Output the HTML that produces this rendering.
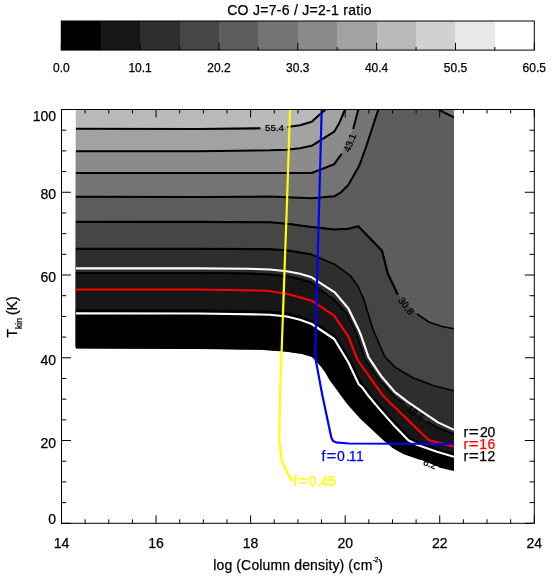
<!DOCTYPE html>
<html><head><meta charset="utf-8"><title>CO ratio</title>
<style>
html,body{margin:0;padding:0;background:#fff;overflow:hidden;}
svg{display:block;font-family:"Liberation Sans",sans-serif;will-change:transform;}
text{font-family:"Liberation Sans",sans-serif;}
</style></head><body>
<svg width="552" height="582" viewBox="0 0 552 582">
<rect x="0" y="0" width="552" height="582" fill="#ffffff"/>

<g shape-rendering="crispEdges">
<rect x="61.30" y="21.0" width="39.72" height="29.1" fill="#000000"/>
<rect x="100.72" y="21.0" width="39.72" height="29.1" fill="#171717"/>
<rect x="140.13" y="21.0" width="39.72" height="29.1" fill="#2e2e2e"/>
<rect x="179.55" y="21.0" width="39.72" height="29.1" fill="#464646"/>
<rect x="218.97" y="21.0" width="39.72" height="29.1" fill="#5d5d5d"/>
<rect x="258.38" y="21.0" width="39.72" height="29.1" fill="#747474"/>
<rect x="297.80" y="21.0" width="39.72" height="29.1" fill="#8b8b8b"/>
<rect x="337.22" y="21.0" width="39.72" height="29.1" fill="#a2a2a2"/>
<rect x="376.63" y="21.0" width="39.72" height="29.1" fill="#b9b9b9"/>
<rect x="416.05" y="21.0" width="39.72" height="29.1" fill="#d1d1d1"/>
<rect x="455.47" y="21.0" width="39.72" height="29.1" fill="#e8e8e8"/>
<rect x="494.88" y="21.0" width="39.72" height="29.1" fill="#ffffff"/>
</g>
<rect x="61.3" y="21.0" width="472.99999999999994" height="29.1" fill="none" stroke="#000" stroke-width="1"/>
<line x1="61.30" y1="50.1" x2="61.30" y2="42.9" stroke="#000" stroke-width="1"/>
<line x1="100.72" y1="50.1" x2="100.72" y2="46.9" stroke="#000" stroke-width="1"/>
<line x1="140.13" y1="50.1" x2="140.13" y2="42.9" stroke="#000" stroke-width="1"/>
<line x1="179.55" y1="50.1" x2="179.55" y2="46.9" stroke="#000" stroke-width="1"/>
<line x1="218.97" y1="50.1" x2="218.97" y2="42.9" stroke="#000" stroke-width="1"/>
<line x1="258.38" y1="50.1" x2="258.38" y2="46.9" stroke="#000" stroke-width="1"/>
<line x1="297.80" y1="50.1" x2="297.80" y2="42.9" stroke="#000" stroke-width="1"/>
<line x1="337.22" y1="50.1" x2="337.22" y2="46.9" stroke="#000" stroke-width="1"/>
<line x1="376.63" y1="50.1" x2="376.63" y2="42.9" stroke="#000" stroke-width="1"/>
<line x1="416.05" y1="50.1" x2="416.05" y2="46.9" stroke="#000" stroke-width="1"/>
<line x1="455.47" y1="50.1" x2="455.47" y2="42.9" stroke="#000" stroke-width="1"/>
<line x1="494.88" y1="50.1" x2="494.88" y2="46.9" stroke="#000" stroke-width="1"/>
<line x1="534.30" y1="50.1" x2="534.30" y2="42.9" stroke="#000" stroke-width="1"/>
<text x="61.30" y="72.2" font-size="12" text-anchor="middle" fill="#000" stroke="#000" stroke-width="0.25">0.0</text>
<text x="140.13" y="72.2" font-size="12" text-anchor="middle" fill="#000" stroke="#000" stroke-width="0.25">10.1</text>
<text x="218.97" y="72.2" font-size="12" text-anchor="middle" fill="#000" stroke="#000" stroke-width="0.25">20.2</text>
<text x="297.80" y="72.2" font-size="12" text-anchor="middle" fill="#000" stroke="#000" stroke-width="0.25">30.3</text>
<text x="376.63" y="72.2" font-size="12" text-anchor="middle" fill="#000" stroke="#000" stroke-width="0.25">40.4</text>
<text x="455.47" y="72.2" font-size="12" text-anchor="middle" fill="#000" stroke="#000" stroke-width="0.25">50.5</text>
<text x="534.30" y="72.2" font-size="12" text-anchor="middle" fill="#000" stroke="#000" stroke-width="0.25">60.5</text>
<text x="299.4" y="14.6" font-size="14" text-anchor="middle" fill="#000" stroke="#000" stroke-width="0.25" textLength="144.5" lengthAdjust="spacing">CO J=7-6 / J=2-1 ratio</text>
<defs><clipPath id="dc"><polygon points="75.80,109.50 454.00,109.50 454.00,470.12 438.97,466.84 420.62,459.36 404.06,453.48 392.50,446.95 384.41,440.23 359.74,417.06 347.51,403.34 330.14,379.49 325.75,371.81 320.70,365.13 316.45,360.38 312.08,356.18 300.19,352.82 286.80,350.61 270.06,349.40 260.52,348.80 198.01,347.85 75.80,347.35"/></clipPath><clipPath id="rc"><rect x="75.8" y="109.5" width="378.2" height="413.79999999999995"/></clipPath></defs>
<g clip-path="url(#dc)">
<rect x="67.8" y="103.5" width="394.2" height="400" fill="#b9b9b9"/>
<polygon points="67.80,128.80 75.80,128.80 198.00,129.00 260.50,128.30 287.50,127.00 300.00,125.30 311.70,121.70 320.00,114.20 333.20,103.50 462.00,103.50 462.00,523.30 67.80,523.30" fill="#a2a2a2"/>
<polygon points="67.80,151.25 75.80,151.25 198.00,151.25 270.00,150.30 286.70,149.70 300.00,148.30 311.70,145.80 334.20,131.70 339.20,123.30 347.52,103.50 462.00,103.50 462.00,523.30 67.80,523.30" fill="#8b8b8b"/>
<polygon points="67.80,173.00 75.80,173.00 270.00,173.00 311.70,173.00 334.20,164.20 341.70,153.80 353.20,129.00 359.87,103.50 462.00,103.50 462.00,523.30 67.80,523.30" fill="#747474"/>
<polygon points="67.80,196.75 75.80,196.75 198.00,196.90 270.00,196.60 286.70,197.20 311.70,198.20 334.20,196.30 341.00,192.30 348.30,185.00 359.20,165.80 366.70,145.00 380.26,103.50 462.00,103.50 462.00,523.30 67.80,523.30" fill="#5d5d5d"/>
<polygon points="438.5,109.5 430,100 470,100 470,125.6" fill="#747474"/>
<polygon points="67.80,221.75 75.80,221.75 198.00,221.90 270.00,222.30 286.70,223.70 311.70,227.00 334.20,229.50 348.30,228.70 358.30,226.20 382.00,250.70 387.80,273.70 397.80,294.50 417.00,314.00 429.50,322.30 442.00,326.50 454.00,328.70 462.00,328.70 462.00,523.30 67.80,523.30" fill="#464646"/>
<polygon points="67.80,248.75 75.80,248.75 198.00,248.75 270.00,249.20 286.70,250.30 311.70,254.50 335.00,264.50 350.00,275.30 358.40,287.00 363.70,299.00 372.80,329.00 384.80,356.70 395.50,367.50 412.00,377.30 433.70,385.70 454.00,390.70 462.00,390.70 462.00,523.30 67.80,523.30" fill="#2e2e2e"/>
<polygon points="67.80,273.00 75.80,273.00 198.00,273.00 248.00,273.50 270.00,274.50 286.70,276.20 300.00,279.00 311.70,282.80 325.00,293.20 333.70,299.10 346.70,313.30 356.50,333.50 365.20,359.50 378.30,378.50 395.00,397.10 404.20,403.60 426.50,421.50 438.50,428.00 454.00,434.20 462.00,434.20 462.00,523.30 67.80,523.30" fill="#171717"/>
<polygon points="67.80,310.50 75.80,310.50 198.02,310.60 260.55,311.60 270.22,311.91 287.18,313.64 300.83,317.02 313.12,321.47 336.30,337.00 350.85,360.92 361.24,382.90 364.23,385.34 370.96,394.49 382.79,408.50 397.13,424.63 410.14,438.06 418.58,442.31 437.89,449.04 454.00,454.02 462.00,454.02 462.00,523.30 67.80,523.30" fill="#000000"/>
</g>
<g clip-path="url(#rc)">
<polyline points="75.80,128.80 198.00,129.00 260.50,128.30" fill="none" stroke="#000" stroke-width="2.05" stroke-linejoin="round" />
<polyline points="287.50,127.00 300.00,125.30 311.70,121.70 320.00,114.20 325.80,109.50" fill="none" stroke="#000" stroke-width="2.05" stroke-linejoin="round" />
<polyline points="75.80,151.25 198.00,151.25 270.00,150.30 286.70,149.70 300.00,148.30 311.70,145.80 334.20,131.70 339.20,123.30 345.00,109.50" fill="none" stroke="#000" stroke-width="2.05" stroke-linejoin="round" />
<polyline points="75.80,173.00 270.00,173.00 311.70,173.00 334.20,164.20 341.70,153.80" fill="none" stroke="#000" stroke-width="2.05" stroke-linejoin="round" />
<polyline points="353.20,129.00 358.30,109.50" fill="none" stroke="#000" stroke-width="2.05" stroke-linejoin="round" />
<polyline points="75.80,196.75 198.00,196.90 270.00,196.60 286.70,197.20 311.70,198.20 334.20,196.30 341.00,192.30 348.30,185.00 359.20,165.80 366.70,145.00 378.30,109.50" fill="none" stroke="#000" stroke-width="2.05" stroke-linejoin="round" />
<polyline points="438.50,109.60 453.90,117.40" fill="none" stroke="#000" stroke-width="2.05" stroke-linejoin="round" />
<polyline points="75.80,221.75 198.00,221.90 270.00,222.30 286.70,223.70 311.70,227.00 334.20,229.50 348.30,228.70 358.30,226.20 382.00,250.70 387.80,273.70 397.80,294.50" fill="none" stroke="#000" stroke-width="1.6" stroke-linejoin="round" />
<polyline points="75.80,221.75 198.00,221.90 270.00,222.30 286.70,223.70 311.70,227.00 334.20,229.50 348.30,228.70 358.30,226.20 382.00,250.70 387.80,273.70 397.80,294.50" fill="none" stroke="#000" stroke-width="2.1" stroke-linejoin="round" />
<polyline points="417.00,314.00 429.50,322.30 442.00,326.50 454.00,328.70" fill="none" stroke="#000" stroke-width="1.6" stroke-linejoin="round" />
<polyline points="75.80,248.75 198.00,248.75 270.00,249.20 286.70,250.30 311.70,254.50 335.00,264.50 350.00,275.30 358.40,287.00 363.70,299.00 372.80,329.00 384.80,356.70 395.50,367.50 412.00,377.30 433.70,385.70 454.00,390.70" fill="none" stroke="#000" stroke-width="1.6" stroke-linejoin="round" />
<polyline points="75.80,248.75 198.00,248.75 270.00,249.20 286.70,250.30 311.70,254.50" fill="none" stroke="#000" stroke-width="2.1" stroke-linejoin="round" />
<polyline points="75.80,273.00 198.00,273.00 248.00,273.50 270.00,274.50 286.70,276.20 300.00,279.00 311.70,282.80 325.00,293.20 333.70,299.10 346.70,313.30 356.50,333.50 365.20,359.50 378.30,378.50 395.00,397.10 404.20,403.60" fill="none" stroke="#000" stroke-width="1.6" stroke-linejoin="round" />
<polyline points="75.80,273.00 198.00,273.00 248.00,273.50 270.00,274.50 286.70,276.20 300.00,279.00 311.70,282.80" fill="none" stroke="#000" stroke-width="2.1" stroke-linejoin="round" />
<polyline points="426.50,421.50 438.50,428.00 454.00,434.20" fill="none" stroke="#000" stroke-width="1.6" stroke-linejoin="round" />
<polyline points="75.80,310.50 198.02,310.60 260.55,311.60 270.22,311.91 287.18,313.64 300.83,317.02 313.12,321.47 336.30,337.00 350.85,360.92 361.24,382.90 364.23,385.34 370.96,394.49 382.79,408.50 397.13,424.63 410.14,438.06 418.58,442.31 437.89,449.04 454.00,454.02" fill="none" stroke="#000" stroke-width="1.6" stroke-linejoin="round" />
<polyline points="75.80,310.50 198.02,310.60 260.55,311.60 270.22,311.91 287.18,313.64 300.83,317.02" fill="none" stroke="#000" stroke-width="2.1" stroke-linejoin="round" />
<polyline points="75.80,347.35 198.01,347.85 260.52,348.80 270.06,349.40 286.80,350.61 300.19,352.82 312.08,356.18 316.45,360.38 320.70,365.13 325.75,371.81 330.14,379.49 347.51,403.34 359.74,417.06 384.41,440.23 392.50,446.95 404.06,453.48 420.62,459.36" fill="none" stroke="#000" stroke-width="1.6" stroke-linejoin="round" />
<polyline points="75.80,347.35 198.01,347.85 260.52,348.80 270.06,349.40 286.80,350.61 300.19,352.82" fill="none" stroke="#000" stroke-width="2.1" stroke-linejoin="round" />
<polyline points="438.97,466.84 454.00,470.12" fill="none" stroke="#000" stroke-width="1.6" stroke-linejoin="round" />
<polyline points="75.80,268.30 198.00,268.30 248.00,268.75 270.00,269.50 286.70,271.20 300.00,273.70 311.70,277.30 325.00,286.10 334.80,292.40 348.40,308.50 358.20,328.70 360.90,335.00 368.60,357.30 381.70,376.80 395.00,392.20 407.00,401.40 420.20,410.30 438.00,422.40 454.00,429.90" fill="none" stroke="#fff" stroke-width="2.15" stroke-linejoin="round" />
<polyline points="75.80,313.40 198.00,313.50 260.50,314.50 270.00,314.80 286.70,316.50 300.00,319.80 311.70,324.00 334.20,339.00 348.30,362.30 358.70,384.30 362.00,387.20 368.70,396.30 380.60,410.40 395.00,426.60 408.30,440.30 417.50,445.00 437.00,451.80 454.00,456.80" fill="none" stroke="#fff" stroke-width="2.15" stroke-linejoin="round" />
<polyline points="75.80,289.50 198.00,289.50 265.50,290.70 270.00,291.20 286.70,293.70 305.80,299.00 311.70,300.70 334.20,315.70 348.30,336.50 357.60,360.00 382.60,395.20 395.00,407.40 428.70,440.10 454.00,446.70" fill="none" stroke="#ff0000" stroke-width="2.15" stroke-linejoin="round" />
<polyline points="290.00,109.50 287.00,202.00 283.50,299.00 280.00,396.00 279.30,440.00 281.75,461.25 291.75,481.25" fill="none" stroke="#ffff00" stroke-width="2.2" stroke-linejoin="round" />
<polyline points="321.70,109.50 319.20,202.00 316.50,299.00 315.20,357.30 322.50,396.00 331.30,437.50 333.00,441.00 336.00,442.30 348.50,443.50 454.00,444.00" fill="none" stroke="#0000ff" stroke-width="2.2" stroke-linejoin="round" />
</g>
<text x="274.5" y="127.7" font-size="9.8" text-anchor="middle" fill="#000" stroke="#000" stroke-width="0.25" transform="rotate(0 274.5 127.7)" dy="3.5">55.4</text>
<text x="349.7" y="142.7" font-size="9.8" text-anchor="middle" fill="#000" stroke="#000" stroke-width="0.25" transform="rotate(-69 349.7 142.7)" dy="3.5">43.1</text>
<text x="406.3" y="306.0" font-size="9.8" text-anchor="middle" fill="#000" stroke="#000" stroke-width="0.25" transform="rotate(53 406.3 306.0)" dy="3.5">30.8</text>
<text x="415.7" y="413.2" font-size="9.8" text-anchor="middle" fill="#000" stroke="#000" stroke-width="0.25" transform="rotate(35 415.7 413.2)" dy="3.5">18.5</text>
<text x="430" y="463.8" font-size="9.8" text-anchor="middle" fill="#000" stroke="#000" stroke-width="0.25" transform="rotate(20 430 463.8)" dy="3.5">6.2</text>
<rect x="61.5" y="109.5" width="472.79999999999995" height="413.79999999999995" fill="none" stroke="#000" stroke-width="1"/>
<line x1="61.50" y1="523.3" x2="61.50" y2="515.3" stroke="#000" stroke-width="1"/>
<line x1="61.50" y1="109.5" x2="61.50" y2="117.5" stroke="#000" stroke-width="1"/>
<text x="61.50" y="548.4" font-size="14" text-anchor="middle" fill="#000" stroke="#000" stroke-width="0.25">14</text>
<line x1="85.14" y1="523.3" x2="85.14" y2="519.3" stroke="#000" stroke-width="1"/>
<line x1="85.14" y1="109.5" x2="85.14" y2="113.5" stroke="#000" stroke-width="1"/>
<line x1="108.78" y1="523.3" x2="108.78" y2="519.3" stroke="#000" stroke-width="1"/>
<line x1="108.78" y1="109.5" x2="108.78" y2="113.5" stroke="#000" stroke-width="1"/>
<line x1="132.42" y1="523.3" x2="132.42" y2="519.3" stroke="#000" stroke-width="1"/>
<line x1="132.42" y1="109.5" x2="132.42" y2="113.5" stroke="#000" stroke-width="1"/>
<line x1="156.06" y1="523.3" x2="156.06" y2="515.3" stroke="#000" stroke-width="1"/>
<line x1="156.06" y1="109.5" x2="156.06" y2="117.5" stroke="#000" stroke-width="1"/>
<text x="156.06" y="548.4" font-size="14" text-anchor="middle" fill="#000" stroke="#000" stroke-width="0.25">16</text>
<line x1="179.70" y1="523.3" x2="179.70" y2="519.3" stroke="#000" stroke-width="1"/>
<line x1="179.70" y1="109.5" x2="179.70" y2="113.5" stroke="#000" stroke-width="1"/>
<line x1="203.34" y1="523.3" x2="203.34" y2="519.3" stroke="#000" stroke-width="1"/>
<line x1="203.34" y1="109.5" x2="203.34" y2="113.5" stroke="#000" stroke-width="1"/>
<line x1="226.98" y1="523.3" x2="226.98" y2="519.3" stroke="#000" stroke-width="1"/>
<line x1="226.98" y1="109.5" x2="226.98" y2="113.5" stroke="#000" stroke-width="1"/>
<line x1="250.62" y1="523.3" x2="250.62" y2="515.3" stroke="#000" stroke-width="1"/>
<line x1="250.62" y1="109.5" x2="250.62" y2="117.5" stroke="#000" stroke-width="1"/>
<text x="250.62" y="548.4" font-size="14" text-anchor="middle" fill="#000" stroke="#000" stroke-width="0.25">18</text>
<line x1="274.26" y1="523.3" x2="274.26" y2="519.3" stroke="#000" stroke-width="1"/>
<line x1="274.26" y1="109.5" x2="274.26" y2="113.5" stroke="#000" stroke-width="1"/>
<line x1="297.90" y1="523.3" x2="297.90" y2="519.3" stroke="#000" stroke-width="1"/>
<line x1="297.90" y1="109.5" x2="297.90" y2="113.5" stroke="#000" stroke-width="1"/>
<line x1="321.54" y1="523.3" x2="321.54" y2="519.3" stroke="#000" stroke-width="1"/>
<line x1="321.54" y1="109.5" x2="321.54" y2="113.5" stroke="#000" stroke-width="1"/>
<line x1="345.18" y1="523.3" x2="345.18" y2="515.3" stroke="#000" stroke-width="1"/>
<line x1="345.18" y1="109.5" x2="345.18" y2="117.5" stroke="#000" stroke-width="1"/>
<text x="345.18" y="548.4" font-size="14" text-anchor="middle" fill="#000" stroke="#000" stroke-width="0.25">20</text>
<line x1="368.82" y1="523.3" x2="368.82" y2="519.3" stroke="#000" stroke-width="1"/>
<line x1="368.82" y1="109.5" x2="368.82" y2="113.5" stroke="#000" stroke-width="1"/>
<line x1="392.46" y1="523.3" x2="392.46" y2="519.3" stroke="#000" stroke-width="1"/>
<line x1="392.46" y1="109.5" x2="392.46" y2="113.5" stroke="#000" stroke-width="1"/>
<line x1="416.10" y1="523.3" x2="416.10" y2="519.3" stroke="#000" stroke-width="1"/>
<line x1="416.10" y1="109.5" x2="416.10" y2="113.5" stroke="#000" stroke-width="1"/>
<line x1="439.74" y1="523.3" x2="439.74" y2="515.3" stroke="#000" stroke-width="1"/>
<line x1="439.74" y1="109.5" x2="439.74" y2="117.5" stroke="#000" stroke-width="1"/>
<text x="439.74" y="548.4" font-size="14" text-anchor="middle" fill="#000" stroke="#000" stroke-width="0.25">22</text>
<line x1="463.38" y1="523.3" x2="463.38" y2="519.3" stroke="#000" stroke-width="1"/>
<line x1="463.38" y1="109.5" x2="463.38" y2="113.5" stroke="#000" stroke-width="1"/>
<line x1="487.02" y1="523.3" x2="487.02" y2="519.3" stroke="#000" stroke-width="1"/>
<line x1="487.02" y1="109.5" x2="487.02" y2="113.5" stroke="#000" stroke-width="1"/>
<line x1="510.66" y1="523.3" x2="510.66" y2="519.3" stroke="#000" stroke-width="1"/>
<line x1="510.66" y1="109.5" x2="510.66" y2="113.5" stroke="#000" stroke-width="1"/>
<line x1="534.30" y1="523.3" x2="534.30" y2="515.3" stroke="#000" stroke-width="1"/>
<line x1="534.30" y1="109.5" x2="534.30" y2="117.5" stroke="#000" stroke-width="1"/>
<text x="534.30" y="548.4" font-size="14" text-anchor="middle" fill="#000" stroke="#000" stroke-width="0.25">24</text>
<line x1="61.5" y1="523.30" x2="71.0" y2="523.30" stroke="#000" stroke-width="1"/>
<line x1="534.3" y1="523.30" x2="524.8" y2="523.30" stroke="#000" stroke-width="1"/>
<text x="56" y="523.90" font-size="14" text-anchor="end" fill="#000" stroke="#000" stroke-width="0.25">0</text>
<line x1="61.5" y1="502.61" x2="66.3" y2="502.61" stroke="#000" stroke-width="1"/>
<line x1="534.3" y1="502.61" x2="529.5" y2="502.61" stroke="#000" stroke-width="1"/>
<line x1="61.5" y1="481.92" x2="66.3" y2="481.92" stroke="#000" stroke-width="1"/>
<line x1="534.3" y1="481.92" x2="529.5" y2="481.92" stroke="#000" stroke-width="1"/>
<line x1="61.5" y1="461.23" x2="66.3" y2="461.23" stroke="#000" stroke-width="1"/>
<line x1="534.3" y1="461.23" x2="529.5" y2="461.23" stroke="#000" stroke-width="1"/>
<line x1="61.5" y1="440.54" x2="71.0" y2="440.54" stroke="#000" stroke-width="1"/>
<line x1="534.3" y1="440.54" x2="524.8" y2="440.54" stroke="#000" stroke-width="1"/>
<text x="56" y="447.54" font-size="14" text-anchor="end" fill="#000" stroke="#000" stroke-width="0.25">20</text>
<line x1="61.5" y1="419.85" x2="66.3" y2="419.85" stroke="#000" stroke-width="1"/>
<line x1="534.3" y1="419.85" x2="529.5" y2="419.85" stroke="#000" stroke-width="1"/>
<line x1="61.5" y1="399.16" x2="66.3" y2="399.16" stroke="#000" stroke-width="1"/>
<line x1="534.3" y1="399.16" x2="529.5" y2="399.16" stroke="#000" stroke-width="1"/>
<line x1="61.5" y1="378.47" x2="66.3" y2="378.47" stroke="#000" stroke-width="1"/>
<line x1="534.3" y1="378.47" x2="529.5" y2="378.47" stroke="#000" stroke-width="1"/>
<line x1="61.5" y1="357.78" x2="71.0" y2="357.78" stroke="#000" stroke-width="1"/>
<line x1="534.3" y1="357.78" x2="524.8" y2="357.78" stroke="#000" stroke-width="1"/>
<text x="56" y="364.78" font-size="14" text-anchor="end" fill="#000" stroke="#000" stroke-width="0.25">40</text>
<line x1="61.5" y1="337.09" x2="66.3" y2="337.09" stroke="#000" stroke-width="1"/>
<line x1="534.3" y1="337.09" x2="529.5" y2="337.09" stroke="#000" stroke-width="1"/>
<line x1="61.5" y1="316.40" x2="66.3" y2="316.40" stroke="#000" stroke-width="1"/>
<line x1="534.3" y1="316.40" x2="529.5" y2="316.40" stroke="#000" stroke-width="1"/>
<line x1="61.5" y1="295.71" x2="66.3" y2="295.71" stroke="#000" stroke-width="1"/>
<line x1="534.3" y1="295.71" x2="529.5" y2="295.71" stroke="#000" stroke-width="1"/>
<line x1="61.5" y1="275.02" x2="71.0" y2="275.02" stroke="#000" stroke-width="1"/>
<line x1="534.3" y1="275.02" x2="524.8" y2="275.02" stroke="#000" stroke-width="1"/>
<text x="56" y="282.02" font-size="14" text-anchor="end" fill="#000" stroke="#000" stroke-width="0.25">60</text>
<line x1="61.5" y1="254.33" x2="66.3" y2="254.33" stroke="#000" stroke-width="1"/>
<line x1="534.3" y1="254.33" x2="529.5" y2="254.33" stroke="#000" stroke-width="1"/>
<line x1="61.5" y1="233.64" x2="66.3" y2="233.64" stroke="#000" stroke-width="1"/>
<line x1="534.3" y1="233.64" x2="529.5" y2="233.64" stroke="#000" stroke-width="1"/>
<line x1="61.5" y1="212.95" x2="66.3" y2="212.95" stroke="#000" stroke-width="1"/>
<line x1="534.3" y1="212.95" x2="529.5" y2="212.95" stroke="#000" stroke-width="1"/>
<line x1="61.5" y1="192.26" x2="71.0" y2="192.26" stroke="#000" stroke-width="1"/>
<line x1="534.3" y1="192.26" x2="524.8" y2="192.26" stroke="#000" stroke-width="1"/>
<text x="56" y="199.26" font-size="14" text-anchor="end" fill="#000" stroke="#000" stroke-width="0.25">80</text>
<line x1="61.5" y1="171.57" x2="66.3" y2="171.57" stroke="#000" stroke-width="1"/>
<line x1="534.3" y1="171.57" x2="529.5" y2="171.57" stroke="#000" stroke-width="1"/>
<line x1="61.5" y1="150.88" x2="66.3" y2="150.88" stroke="#000" stroke-width="1"/>
<line x1="534.3" y1="150.88" x2="529.5" y2="150.88" stroke="#000" stroke-width="1"/>
<line x1="61.5" y1="130.19" x2="66.3" y2="130.19" stroke="#000" stroke-width="1"/>
<line x1="534.3" y1="130.19" x2="529.5" y2="130.19" stroke="#000" stroke-width="1"/>
<line x1="61.5" y1="109.50" x2="71.0" y2="109.50" stroke="#000" stroke-width="1"/>
<line x1="534.3" y1="109.50" x2="524.8" y2="109.50" stroke="#000" stroke-width="1"/>
<text x="56" y="121.10" font-size="14" text-anchor="end" fill="#000" stroke="#000" stroke-width="0.25">100</text>
<text x="213.2" y="569.6" font-size="14" fill="#000" stroke="#000" stroke-width="0.25" textLength="131" lengthAdjust="spacing">log (Column density)</text>
<text x="348.2" y="569.6" font-size="14" fill="#000" stroke="#000" stroke-width="0.25" textLength="24.3" lengthAdjust="spacing">(cm</text>
<text x="372.7" y="561.7" font-size="6.5" fill="#000" stroke="#000" stroke-width="0.25">-2</text>
<text x="378.3" y="569.6" font-size="14" fill="#000" stroke="#000" stroke-width="0.25">)</text>
<text transform="translate(16.8,337.6) rotate(-90)" font-size="14" fill="#000" stroke="#000" stroke-width="0.25">T<tspan font-size="8.7" dy="5.5">kin</tspan><tspan dy="-5.5" dx="-1"> (K)</tspan></text>
<text x="463.6" y="436.8" font-size="14" fill="#000000" stroke="#000000" stroke-width="0.25">r</text>
<text transform="translate(468.8,436.8) scale(1.22,1)" font-size="14" fill="#000000" stroke="#000000" stroke-width="0.25">=</text>
<text x="480.0" y="436.8" font-size="14" fill="#000000" stroke="#000000" stroke-width="0.25">2</text>
<text x="487.5" y="436.8" font-size="14" fill="#000000" stroke="#000000" stroke-width="0.25">0</text>
<text x="463.6" y="448.9" font-size="14" fill="#ff0000" stroke="#ff0000" stroke-width="0.25">r</text>
<text transform="translate(468.8,448.9) scale(1.22,1)" font-size="14" fill="#ff0000" stroke="#ff0000" stroke-width="0.25">=</text>
<text x="479.2" y="448.9" font-size="14" fill="#ff0000" stroke="#ff0000" stroke-width="0.25">1</text>
<text x="487.5" y="448.9" font-size="14" fill="#ff0000" stroke="#ff0000" stroke-width="0.25">6</text>
<text x="463.6" y="461.2" font-size="14" fill="#000000" stroke="#000000" stroke-width="0.25">r</text>
<text transform="translate(468.8,461.2) scale(1.22,1)" font-size="14" fill="#000000" stroke="#000000" stroke-width="0.25">=</text>
<text x="479.2" y="461.2" font-size="14" fill="#000000" stroke="#000000" stroke-width="0.25">1</text>
<text x="487.5" y="461.2" font-size="14" fill="#000000" stroke="#000000" stroke-width="0.25">2</text>
<text x="321.5" y="461.2" font-size="14" fill="#0000ff" stroke="#0000ff" stroke-width="0.25">f</text>
<text transform="translate(326.4,461.2) scale(1.2,1)" font-size="14" fill="#0000ff" stroke="#0000ff" stroke-width="0.25">=</text>
<text x="336.9" y="461.2" font-size="14" fill="#0000ff" stroke="#0000ff" stroke-width="0.25">0</text>
<text x="345.9" y="461.2" font-size="14" fill="#0000ff" stroke="#0000ff" stroke-width="0.25">.</text>
<text x="348.7" y="461.2" font-size="14" fill="#0000ff" stroke="#0000ff" stroke-width="0.25">1</text>
<text x="356.1" y="461.2" font-size="14" fill="#0000ff" stroke="#0000ff" stroke-width="0.25">1</text>
<text x="293.3" y="486.0" font-size="14" fill="#ffff00" stroke="#ffff00" stroke-width="0.25">f</text>
<text transform="translate(298.2,486.0) scale(1.2,1)" font-size="14" fill="#ffff00" stroke="#ffff00" stroke-width="0.25">=</text>
<text x="308.7" y="486.0" font-size="14" fill="#ffff00" stroke="#ffff00" stroke-width="0.25">0</text>
<text x="317.7" y="486.0" font-size="14" fill="#ffff00" stroke="#ffff00" stroke-width="0.25">.</text>
<text x="320.4" y="486.0" font-size="14" fill="#ffff00" stroke="#ffff00" stroke-width="0.25">4</text>
<text x="328.0" y="486.0" font-size="14" fill="#ffff00" stroke="#ffff00" stroke-width="0.25">5</text>
</svg></body></html>
